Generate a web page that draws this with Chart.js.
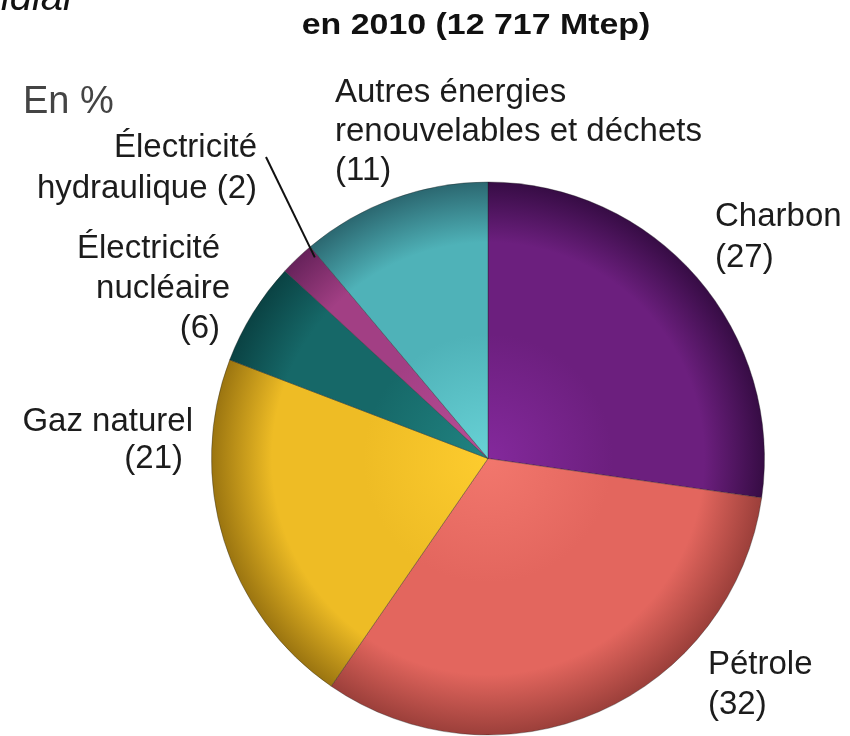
<!DOCTYPE html>
<html lang="fr">
<head>
<meta charset="utf-8">
<title>Consommation mondiale d'énergie primaire en 2010</title>
<script src="https://cdn.jsdelivr.net/npm/chart.js@4.4.1/dist/chart.umd.min.js"></script>
<style>
  html, body { margin: 0; padding: 0; background: #fff; }
  canvas { display: block; }
</style>
</head>
<body>
<canvas id="energyPie" width="850" height="736"></canvas>
<script>
// Parts de chaque source d'énergie (en %), dans l'ordre horaire depuis midi
const categories = ['Charbon', 'Pétrole', 'Gaz naturel', 'Électricité nucléaire', 'Électricité hydraulique', 'Autres énergies renouvelables et déchets'];
const shares = [27, 32, 21, 6, 2, 11];

// Teintes : centre clair, couleur de base, bord sombre
const innerColors = ['#84299c', '#f2776d', '#fdcc2e', '#218482', '#ba4e98', '#68d2d6'];
const baseColors  = ['#6c1f7e', '#e3665e', '#eebc25', '#166868', '#a23f84', '#4fb2b8'];
const rimColors   = ['#360c44', '#9b3f3a', '#9a7410', '#0a4243', '#66225a', '#2b6770'];

const title = 'en 2010 (12 717 Mtep)';
const unitLabel = 'En %';

function sliceGradient(context) {
    const i = context.dataIndex;
    const chart = context.chart;
    const area = chart.chartArea;
    if (!area) return baseColors[i];
    const cx = (area.left + area.right) / 2;
    const cy = (area.top + area.bottom) / 2;
    const r = Math.min(area.right - area.left, area.bottom - area.top) / 2;
    const g = chart.ctx.createRadialGradient(cx, cy, 0, cx, cy, r);
    g.addColorStop(0, innerColors[i]);
    g.addColorStop(0.45, baseColors[i]);
    g.addColorStop(0.78, baseColors[i]);
    g.addColorStop(1, rimColors[i]);
    return g;
}

// Texte étiré horizontalement si besoin
function fillTextScaled(ctx, text, x, y, align, sx) {
    ctx.save();
    ctx.translate(x, y);
    ctx.scale(sx || 1, 1);
    ctx.textAlign = align;
    ctx.fillText(text, 0, 0);
    ctx.restore();
}

const labelsPlugin = {
    id: 'pieLabels',
    afterDraw(chart) {
        const ctx = chart.ctx;
        const font = '33px "Liberation Sans", Arial, sans-serif';
        ctx.save();
        ctx.textBaseline = 'alphabetic';

        // bout de sous-titre coupé en haut
        ctx.fillStyle = '#111';
        ctx.font = 'italic 40px "Liberation Sans", Arial, sans-serif';
        fillTextScaled(ctx, 'mondial', 72, 10, 'right');

        ctx.font = 'bold 30px "Liberation Sans", Arial, sans-serif';
        fillTextScaled(ctx, title, 476, 34, 'center', 1.13);

        ctx.fillStyle = '#444';
        ctx.font = '38px "Liberation Sans", Arial, sans-serif';
        fillTextScaled(ctx, unitLabel, 23, 113, 'left');

        ctx.fillStyle = '#1c1c1c';
        ctx.font = font;
        const val = i => '(' + shares[i] + ')';

        // Autres énergies renouvelables et déchets
        fillTextScaled(ctx, 'Autres énergies', 335, 102, 'left');
        fillTextScaled(ctx, 'renouvelables et déchets', 335, 141, 'left');
        fillTextScaled(ctx, val(5), 335, 180, 'left');

        // Charbon
        fillTextScaled(ctx, categories[0], 715, 226, 'left');
        fillTextScaled(ctx, val(0), 715, 267, 'left');

        // Pétrole
        fillTextScaled(ctx, categories[1], 708, 674, 'left');
        fillTextScaled(ctx, val(1), 708, 714, 'left');

        // Gaz naturel
        fillTextScaled(ctx, categories[2], 193, 431, 'right');
        fillTextScaled(ctx, val(2), 183, 468, 'right');

        // Électricité nucléaire
        fillTextScaled(ctx, 'Électricité', 220, 258, 'right');
        fillTextScaled(ctx, 'nucléaire', 230, 298, 'right');
        fillTextScaled(ctx, val(3), 220, 338, 'right');

        // Électricité hydraulique, avec son trait de rappel
        fillTextScaled(ctx, 'Électricité', 257, 157, 'right');
        fillTextScaled(ctx, 'hydraulique ' + val(4), 257, 198, 'right');

        const arc = chart.getDatasetMeta(0).data[4];
        const a = arc.startAngle + (arc.endAngle - arc.startAngle) * 0.9;
        const tipX = arc.x + Math.cos(a) * arc.outerRadius * 0.96;
        const tipY = arc.y + Math.sin(a) * arc.outerRadius * 0.96;
        ctx.strokeStyle = '#111';
        ctx.lineWidth = 2;
        ctx.beginPath();
        ctx.moveTo(266, 157);
        ctx.lineTo(tipX, tipY);
        ctx.stroke();

        ctx.restore();
    }
};

const ctx = document.getElementById('energyPie').getContext('2d');
new Chart(ctx, {
    type: 'pie',
    data: {
        labels: categories,
        datasets: [{
            data: shares,
            backgroundColor: sliceGradient,
            borderColor: 'rgba(30, 30, 30, 0.35)',
            borderWidth: 1
        }]
    },
    options: {
        responsive: false,
        animation: false,
        events: [],
        layout: {
            padding: { left: 211, right: 85, top: 181, bottom: 0 }
        },
        plugins: {
            legend: { display: false },
            tooltip: { enabled: false },
            title: { display: false }
        }
    },
    plugins: [labelsPlugin]
});
</script>
</body>
</html>
